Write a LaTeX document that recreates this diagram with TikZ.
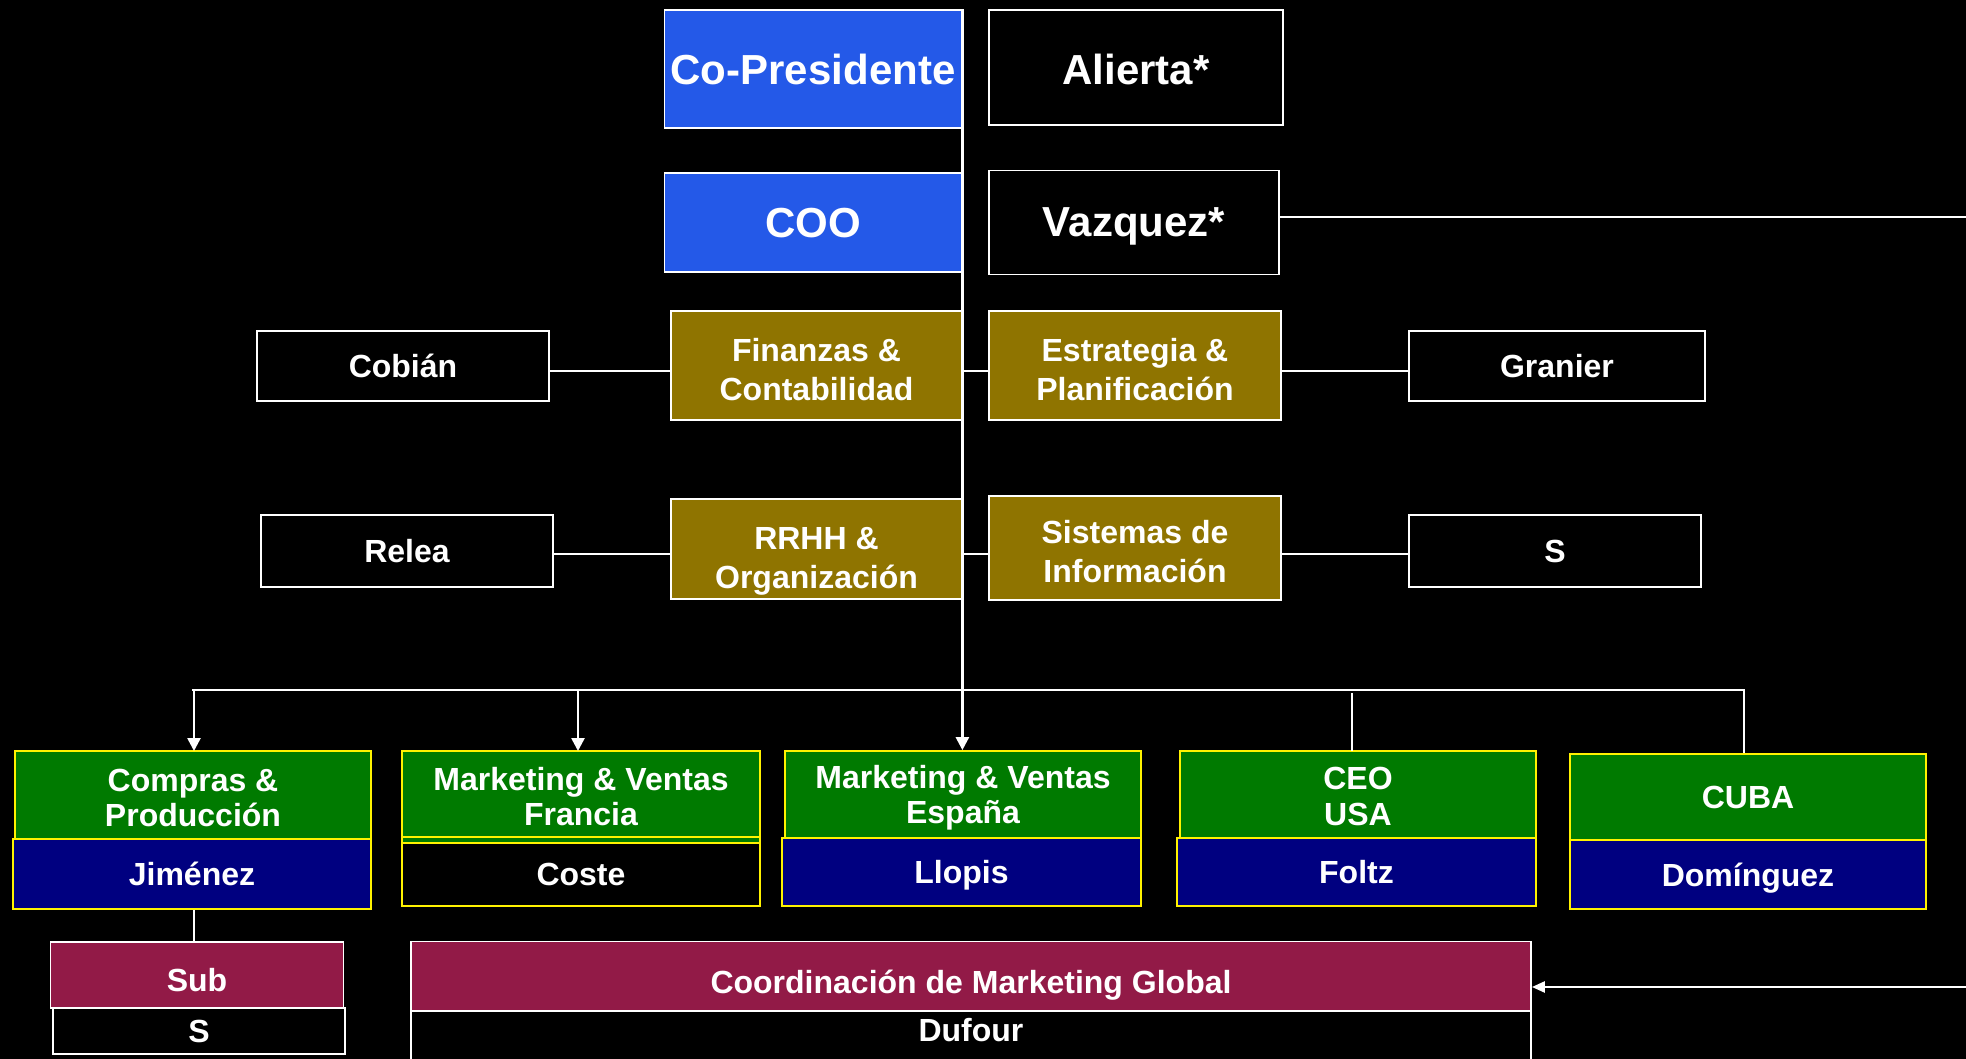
\documentclass[tikz,border=0pt]{standalone}
\usepackage{fontspec}
\setmainfont{Liberation Sans}
\usetikzlibrary{arrows.meta}
\definecolor{cblue}{RGB}{36,89,232}
\definecolor{colive}{RGB}{143,116,0}
\definecolor{cgreen}{RGB}{0,122,0}
\definecolor{cnavy}{RGB}{0,0,128}
\definecolor{cmaroon}{RGB}{146,26,71}
% lowers the text of a node by #1 pt (rule in the first line)
\newcommand\lowr[1]{\rule{0pt}{\dimexpr 23.3pt+#1pt+#1pt\relax}}
\tikzset{
 box/.style={draw=white, line width=1.8pt, text=white, align=center, inner sep=0pt,
   font=\bfseries\fontsize{32}{39}\selectfont},
 one/.style={text depth=0pt},
 bigbox/.style={box, font=\bfseries\fontsize{42}{48}\selectfont},
 bluebox/.style={bigbox, fill=cblue},
 blackbig/.style={bigbox, fill=black},
 olivebox/.style={box, fill=colive},
 namebox/.style={box, fill=black},
 greenbox/.style={box, draw=yellow, fill=cgreen, font=\bfseries\fontsize{32}{35}\selectfont},
 navybox/.style={box, draw=yellow, fill=cnavy},
 costebox/.style={box, draw=yellow, fill=black},
 maroonbox/.style={box, fill=cmaroon},
 plaintext/.style={text=white, inner sep=0pt, text depth=0pt, font=\bfseries\fontsize{32}{39}\selectfont},
 conn/.style={draw=white, line width=2.6pt},
 arr/.style={conn, -{Triangle[length=13pt,width=13pt]}},
 harr/.style={conn, -{Triangle[length=13pt,width=11pt]}},
}
\begin{document}
\begin{tikzpicture}[x=1pt,y=-1pt]
\useasboundingbox (0,0) rectangle (1966,1059);
\fill[black] (0,0) rectangle (1966,1059);

% top
\node[bluebox, one, minimum width=297pt, minimum height=118pt] (cop) at (813,69) {Co-Presidente};
\node[blackbig, one, minimum width=294pt, minimum height=115pt] (ali) at (1136,67.5) {\rule{0pt}{35pt}Alierta*};
\node[bluebox, one, minimum width=297pt, minimum height=99pt] (coo) at (813,222.5) {COO};
\node[blackbig, one, minimum width=290pt, minimum height=104pt] (vaz) at (1134,222.5) {Vazquez*};

% staff
\node[olivebox, minimum width=291pt, minimum height=109pt] (fin) at (816.5,365.5) {\lowr{4.5}Finanzas \&\\Contabilidad};
\node[olivebox, minimum width=292pt, minimum height=109pt] (est) at (1135,365.5) {\lowr{4.5}Estrategia \&\\Planificación};
\node[namebox, one, minimum width=292pt, minimum height=70pt] (cob) at (403,366) {Cobián};
\node[namebox, one, minimum width=296pt, minimum height=70pt] (gra) at (1557,366) {Granier};

\node[olivebox, minimum width=291pt, minimum height=100pt] (rrh) at (816.5,549) {\lowr{12}RRHH \&\\Organización};
\node[olivebox, minimum width=292pt, minimum height=104pt] (sis) at (1135,548) {\lowr{3.5}Sistemas de\\Información};
\node[namebox, one, minimum width=292pt, minimum height=72pt] (rel) at (407,551) {Relea};
\node[namebox, one, minimum width=292pt, minimum height=72pt] (ssi) at (1555,551) {S};

% bottom units
\node[greenbox, minimum width=356pt, minimum height=88pt] (g1) at (193,795) {\lowr{3}Compras \&\\Producción};
\node[navybox, one, minimum width=358pt, minimum height=70pt] (b1) at (192,874) {Jiménez};

\node[greenbox, minimum width=358pt, minimum height=92pt] (g2) at (581,797) {Marketing \& Ventas\\Francia};
\draw[yellow, line width=1.8pt] (g2.west |- 0,837) -- (g2.east |- 0,837);
\node[costebox, one, minimum width=358pt, minimum height=63pt] (b2) at (581,874.5) {Coste};

\node[greenbox, minimum width=356pt, minimum height=87pt] (g3) at (963,794.5) {\lowr{3.5}Marketing \& Ventas\\España};
\node[navybox, one, minimum width=359pt, minimum height=68pt] (b3) at (961.5,872) {Llopis};

\node[greenbox, font=\bfseries\fontsize{32}{36}\selectfont, minimum width=356pt, minimum height=87pt] (g4) at (1358,794.5) {\lowr{1.5}CEO\\USA};
\node[navybox, one, minimum width=359pt, minimum height=68pt] (b4) at (1356.5,872) {Foltz};

\node[greenbox, one, minimum width=356pt, minimum height=86pt] (g5) at (1748,797) {CUBA};
\node[navybox, one, minimum width=356pt, minimum height=69pt] (b5) at (1748,874.5) {Domínguez};

% lowest row
\node[maroonbox, one, minimum width=293pt, minimum height=66pt] (sub) at (197,975) {\lowr{5}Sub};
\node[namebox, one, minimum width=292pt, minimum height=46pt] (s2) at (199,1031) {S};
\node[maroonbox, one, minimum width=1120pt, minimum height=69pt] (coord) at (971,976) {\lowr{5.5}Coordinación de Marketing Global};
\node[namebox, minimum width=1120pt, minimum height=80pt, anchor=north] (dufbox) at (971,1010.5) {};
\node[plaintext] (duf) at (971,1030) {Dufour};

% connectors
\coordinate (rowA) at (0,371);
\coordinate (rowB) at (0,554);
\coordinate (busL) at (192,690);
\coordinate (busR) at (1744,690);
\coordinate (vazR) at (1966,217);
\coordinate (cooR) at (1966,987);

\draw[arr] (cop.north east) -- (cop.north east |- g3.north);
\draw[conn] (vaz.east |- vazR) -- (vazR);

\draw[conn] (cob.east |- rowA) -- (fin.west |- rowA);
\draw[conn] (fin.east |- rowA) -- (est.west |- rowA);
\draw[conn] (est.east |- rowA) -- (gra.west |- rowA);
\draw[conn] (rel.east |- rowB) -- (rrh.west |- rowB);
\draw[conn] (rrh.east |- rowB) -- (sis.west |- rowB);
\draw[conn] (sis.east |- rowB) -- (ssi.west |- rowB);

\draw[conn] (busL) -- (busR) -- (busR |- g5.north);
\draw[arr] (194,690) -- (194,751);
\draw[arr] (578,690) -- (578,751);
\draw[conn] (1352,693) -- (1352,751);

\draw[conn] (b1.south -| 194,0) -- (sub.north -| 194,0);
\draw[harr] (cooR) -- (coord.east |- cooR);
\end{tikzpicture}
\end{document}
